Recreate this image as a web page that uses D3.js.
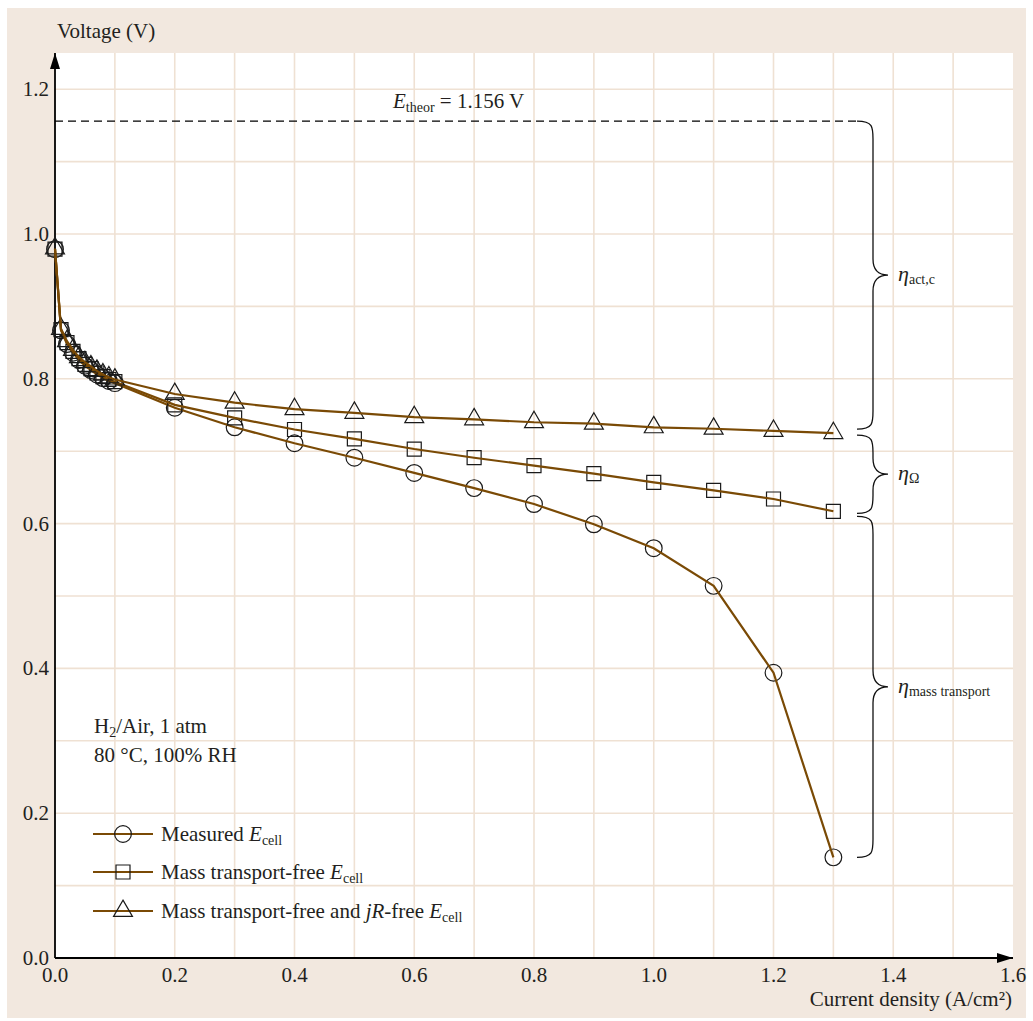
<!DOCTYPE html>
<html>
<head>
<meta charset="utf-8">
<script src="https://cdn.jsdelivr.net/npm/d3@7"></script>
<style>
  body { margin: 0; background: #fff; }
  text { font-family: "Liberation Serif", "Times New Roman", serif; fill: #231f20; }
</style>
</head>
<body>
<div id="chart"></div>
<script>
// current density (A/cm2)
var currentDensity = [0, 0.01, 0.02, 0.03, 0.04, 0.05, 0.06, 0.07, 0.08, 0.09, 0.1,
  0.2, 0.3, 0.4, 0.5, 0.6, 0.7, 0.8, 0.9, 1.0, 1.1, 1.2, 1.3];

var measured = [0.979, 0.867, 0.848, 0.836, 0.826, 0.818, 0.812, 0.806, 0.801, 0.797, 0.794,
  0.760, 0.733, 0.711, 0.691, 0.670, 0.649, 0.627, 0.599, 0.566, 0.514, 0.394, 0.139];

var massFree = [0.979, 0.868, 0.850, 0.838, 0.828, 0.820, 0.814, 0.808, 0.803, 0.799, 0.796,
  0.764, 0.746, 0.730, 0.717, 0.703, 0.691, 0.680, 0.669, 0.657, 0.646, 0.634, 0.617];

var massJrFree = [0.980, 0.869, 0.852, 0.840, 0.830, 0.823, 0.817, 0.811, 0.806, 0.802, 0.799,
  0.779, 0.767, 0.758, 0.753, 0.747, 0.744, 0.740, 0.738, 0.733, 0.731, 0.728, 0.725];

var xTicks = [0, 0.2, 0.4, 0.6, 0.8, 1.0, 1.2, 1.4, 1.6];
var yTicks = [0, 0.2, 0.4, 0.6, 0.8, 1.0, 1.2];
var eTheor = 1.156;

var W = 1033, H = 1021;
var lineColor = "#7a4a05";
var gridColor = "#efe1d3";

var svg = d3.select("#chart").append("svg")
  .attr("width", W)
  .attr("height", H);

// beige frame
svg.append("rect")
  .attr("x", 7).attr("y", 8)
  .attr("width", 1019).attr("height", 1010)
  .attr("fill", "#f2e8df");

var x = d3.scaleLinear().domain([0, 1.6]).range([55, 1013]);
var y = d3.scaleLinear().domain([0, 1.25]).range([958, 53]);

svg.append("rect")
  .attr("x", x(0)).attr("y", y(1.25))
  .attr("width", x(1.6) - x(0)).attr("height", y(0) - y(1.25))
  .attr("fill", "#fff");

// grid
var gx = d3.range(1, 16).map(function(i) { return i / 10; });
var gy = d3.range(1, 13).map(function(i) { return i / 10; });

svg.append("g").selectAll("line")
  .data(gx)
  .enter().append("line")
  .attr("x1", function(d) { return x(d); })
  .attr("x2", function(d) { return x(d); })
  .attr("y1", y(0)).attr("y2", y(1.25))
  .attr("stroke", gridColor)
  .attr("stroke-width", 1.6);

svg.append("g").selectAll("line")
  .data(gy)
  .enter().append("line")
  .attr("y1", function(d) { return y(d); })
  .attr("y2", function(d) { return y(d); })
  .attr("x1", x(0)).attr("x2", x(1.6))
  .attr("stroke", gridColor)
  .attr("stroke-width", 1.6);

// axes with arrows
svg.append("defs").append("marker")
  .attr("id", "arrow")
  .attr("viewBox", "0 0 16 10")
  .attr("refX", 16).attr("refY", 5)
  .attr("markerWidth", 16).attr("markerHeight", 10)
  .attr("markerUnits", "userSpaceOnUse")
  .attr("orient", "auto")
  .append("path")
  .attr("d", "M0,0 L16,5 L0,10 Z")
  .attr("fill", "#000");

svg.append("line")
  .attr("x1", x(0)).attr("y1", y(0))
  .attr("x2", x(0)).attr("y2", y(1.25))
  .attr("stroke", "#000").attr("stroke-width", 1.8)
  .attr("marker-end", "url(#arrow)");

svg.append("line")
  .attr("x1", x(0)).attr("y1", y(0))
  .attr("x2", x(1.6)).attr("y2", y(0))
  .attr("stroke", "#000").attr("stroke-width", 1.8)
  .attr("marker-end", "url(#arrow)");

svg.append("g").selectAll("text")
  .data(yTicks)
  .enter().append("text")
  .attr("x", x(0) - 6)
  .attr("y", function(d) { return y(d) + 7; })
  .attr("text-anchor", "end")
  .attr("font-size", 21)
  .text(function(d) { return d.toFixed(1); });

svg.append("g").selectAll("text")
  .data(xTicks)
  .enter().append("text")
  .attr("x", function(d) { return x(d); })
  .attr("y", y(0) + 24)
  .attr("text-anchor", "middle")
  .attr("font-size", 21)
  .text(function(d) { return d.toFixed(1); });

svg.append("text")
  .attr("x", 57).attr("y", 38)
  .attr("font-size", 21)
  .text("Voltage (V)");

svg.append("text")
  .attr("x", 1012).attr("y", 1006)
  .attr("text-anchor", "end")
  .attr("font-size", 21)
  .text("Current density (A/cm²)");

// E theor dashed line
svg.append("line")
  .attr("x1", x(0)).attr("x2", 856)
  .attr("y1", y(eTheor)).attr("y2", y(eTheor))
  .attr("stroke", "#000").attr("stroke-width", 1.3)
  .attr("stroke-dasharray", "8,5");

var et = svg.append("text").attr("x", 393).attr("y", 108).attr("font-size", 21);
et.append("tspan").attr("font-style", "italic").text("E");
et.append("tspan").attr("font-size", 14).attr("dy", 4).text("theor");
et.append("tspan").attr("dy", -4).text(" = " + eTheor.toFixed(3) + " V");

// series
var series = [
  { name: "measured", values: measured, symbol: d3.symbolCircle, size: 220 },
  { name: "massFree", values: massFree, symbol: d3.symbolSquare, size: 196 },
  { name: "massJrFree", values: massJrFree, symbol: d3.symbolTriangle, size: 155 }
];

var line = d3.line()
  .x(function(d) { return x(d[0]); })
  .y(function(d) { return y(d[1]); });

series.forEach(function(s) {
  var pts = currentDensity.map(function(c, i) { return [c, s.values[i]]; });
  var g = svg.append("g").attr("class", s.name);
  g.selectAll("path.marker")
    .data(pts)
    .enter().append("path")
    .attr("class", "marker")
    .attr("d", d3.symbol().type(s.symbol).size(s.size))
    .attr("transform", function(d) { return "translate(" + x(d[0]) + "," + y(d[1]) + ")"; })
    .attr("fill", "none")
    .attr("stroke", "#1a1a1a")
    .attr("stroke-width", 1.2);
  g.append("path")
    .datum(pts)
    .attr("d", line)
    .attr("fill", "none")
    .attr("stroke", lineColor)
    .attr("stroke-width", 2.2);
});

// braces
function brace(yTop, yBot) {
  var xl = 857, xm = 873, xt = 888;
  var mid = (yTop + yBot) / 2;
  return "M" + xl + "," + yTop +
    " C" + xm + "," + yTop + " " + xm + "," + (yTop + 6) + " " + xm + "," + (yTop + 18) +
    " L" + xm + "," + (mid - 16) +
    " C" + xm + "," + (mid - 4) + " " + (xm + 6) + "," + mid + " " + xt + "," + mid +
    " C" + (xm + 6) + "," + mid + " " + xm + "," + (mid + 4) + " " + xm + "," + (mid + 16) +
    " L" + xm + "," + (yBot - 18) +
    " C" + xm + "," + (yBot - 6) + " " + xm + "," + yBot + " " + xl + "," + yBot;
}

var last = currentDensity.length - 1;
var braces = [
  { top: y(eTheor), bot: y(massJrFree[last]) - 4, sub: "act,c" },
  { top: y(massJrFree[last]) + 2, bot: y(massFree[last]) + 2, sub: "Ω" },
  { top: y(massFree[last]) + 5, bot: y(measured[last]), sub: "mass transport" }
];

braces.forEach(function(b) {
  svg.append("path")
    .attr("d", brace(b.top, b.bot))
    .attr("fill", "none")
    .attr("stroke", "#111")
    .attr("stroke-width", 1.3);
  var t = svg.append("text")
    .attr("x", 898)
    .attr("y", (b.top + b.bot) / 2 + 6)
    .attr("font-size", 22);
  t.append("tspan").attr("font-style", "italic").text("η");
  t.append("tspan").attr("font-size", 14).attr("dy", 3).text(b.sub);
});

// conditions
svg.append("text").attr("x", 94).attr("y", 733).attr("font-size", 21)
  .call(function(t) {
    t.append("tspan").text("H");
    t.append("tspan").attr("font-size", 14).attr("dy", 4).text("2");
    t.append("tspan").attr("dy", -4).text("/Air, 1 atm");
  });
svg.append("text").attr("x", 94).attr("y", 762).attr("font-size", 21)
  .text("80 °C, 100% RH");

// legend
var legend = [
  { symbol: d3.symbolCircle, size: 220, parts: [["Measured ", ""], ["E", "i"], ["cell", "s"]] },
  { symbol: d3.symbolSquare, size: 196, parts: [["Mass transport-free ", ""], ["E", "i"], ["cell", "s"]] },
  { symbol: d3.symbolTriangle, size: 155, parts: [["Mass transport-free and ", ""], ["jR", "i"], ["-free ", ""], ["E", "i"], ["cell", "s"]] }
];
var legendY = [834, 872, 911];

legend.forEach(function(l, i) {
  var ly = legendY[i];
  svg.append("line")
    .attr("x1", 93).attr("x2", 153)
    .attr("y1", ly).attr("y2", ly)
    .attr("stroke", lineColor).attr("stroke-width", 2.2);
  svg.append("path")
    .attr("d", d3.symbol().type(l.symbol).size(l.size))
    .attr("transform", "translate(123," + ly + ")")
    .attr("fill", "none")
    .attr("stroke", "#1a1a1a")
    .attr("stroke-width", 1.2);
  var t = svg.append("text").attr("x", 161).attr("y", ly + 7).attr("font-size", 21);
  var sub = false;
  l.parts.forEach(function(p) {
    var s = t.append("tspan").text(p[0]);
    if (p[1] == "i") s.attr("font-style", "italic");
    if (p[1] == "s") { s.attr("font-size", 14).attr("dy", 4); sub = true; }
    else if (sub) { s.attr("dy", -4); sub = false; }
  });
});
</script>
</body>
</html>
